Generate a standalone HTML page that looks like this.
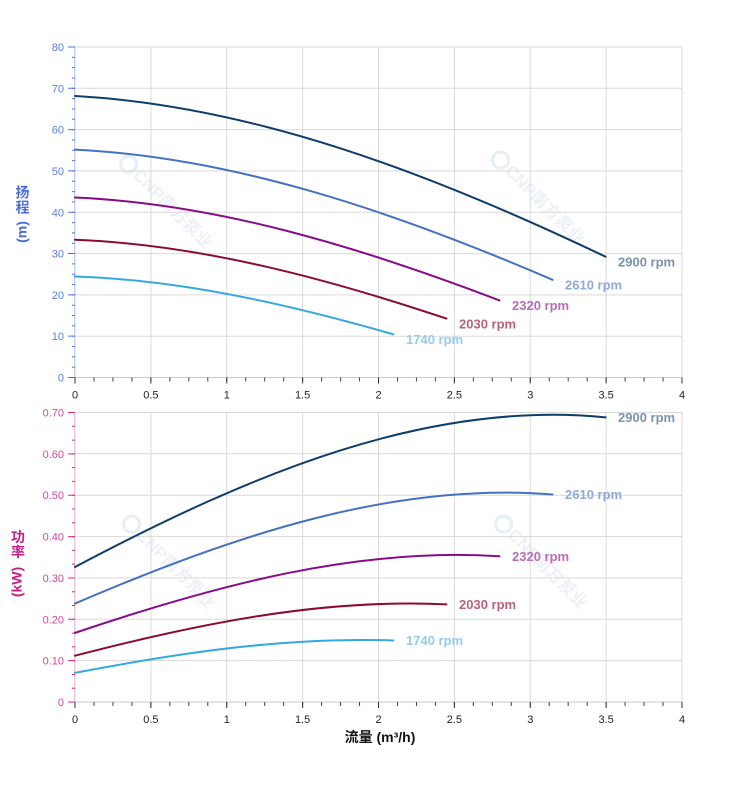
<!DOCTYPE html>
<html>
<head>
<meta charset="utf-8">
<style>
html,body{margin:0;padding:0;background:#fff;}
svg{display:block;}
text{font-family:"Liberation Sans","Noto Sans CJK SC",sans-serif;}
</style>
</head>
<body>
<svg width="752" height="797" viewBox="0 0 752 797" xmlns="http://www.w3.org/2000/svg">
<rect width="752" height="797" fill="#fff"/>

<!-- watermarks -->
<g fill="#edf1f7" font-size="17" font-weight="bold">
  <g transform="translate(118,162) rotate(45)"><circle cx="9" cy="-6" r="8" fill="none" stroke="#e6eef8" stroke-width="3"/><text x="20" y="0">CNP南方泵业</text></g>
  <g transform="translate(490,158) rotate(45)"><circle cx="9" cy="-6" r="8" fill="none" stroke="#e6eef8" stroke-width="3"/><text x="20" y="0">CNP南方泵业</text></g>
  <g transform="translate(121,522) rotate(45)"><circle cx="9" cy="-6" r="8" fill="none" stroke="#e6eef8" stroke-width="3"/><text x="20" y="0">CNP南方泵业</text></g>
  <g transform="translate(493,522) rotate(45)"><circle cx="9" cy="-6" r="8" fill="none" stroke="#e6eef8" stroke-width="3"/><text x="20" y="0">CNP南方泵业</text></g>
</g>

<!-- TOP grid -->
<g stroke="#d9d9d9" stroke-width="1" fill="none">
  <path d="M75,47V377.5M150.9,47V377.5M226.75,47V377.5M302.6,47V377.5M378.5,47V377.5M454.4,47V377.5M530.25,47V377.5M606.1,47V377.5M682,47V377.5"/>
  <path d="M75,47H682M75,88.3H682M75,129.6H682M75,170.9H682M75,212.3H682M75,253.6H682M75,294.9H682M75,336.2H682"/>
</g>
<line x1="75" y1="377.5" x2="682" y2="377.5" stroke="#c8c8c8" stroke-width="1"/>
<line x1="74.5" y1="47" x2="74.5" y2="377.5" stroke="#c5cff0" stroke-width="1"/>

<!-- TOP y ticks -->
<line x1="71.5" y1="46.5" x2="71.5" y2="378.5" stroke="#4f73e0" stroke-width="7" stroke-dasharray="1 40.31"/>
<line x1="73.5" y1="46.5" x2="73.5" y2="378.5" stroke="#4f73e0" stroke-width="3" stroke-dasharray="1 9.3275"/>
<!-- TOP x ticks -->
<line x1="74.5" y1="379.5" x2="682.5" y2="379.5" stroke="#444" stroke-width="4" stroke-dasharray="1 17.969"/>
<line x1="74.5" y1="380.5" x2="682.5" y2="380.5" stroke="#333" stroke-width="6" stroke-dasharray="1 74.875"/>

<!-- TOP y labels -->
<g fill="#5a7de4" font-size="11" text-anchor="end">
  <text x="64" y="381.5">0</text>
  <text x="64" y="340.2">10</text>
  <text x="64" y="298.9">20</text>
  <text x="64" y="257.6">30</text>
  <text x="64" y="216.3">40</text>
  <text x="64" y="174.9">50</text>
  <text x="64" y="133.6">60</text>
  <text x="64" y="92.3">70</text>
  <text x="64" y="51">80</text>
</g>
<!-- TOP x labels -->
<g fill="#222" font-size="11" text-anchor="middle">
  <text x="75" y="398.5">0</text>
  <text x="150.9" y="398.5">0.5</text>
  <text x="226.75" y="398.5">1</text>
  <text x="302.6" y="398.5">1.5</text>
  <text x="378.5" y="398.5">2</text>
  <text x="454.4" y="398.5">2.5</text>
  <text x="530.25" y="398.5">3</text>
  <text x="606.1" y="398.5">3.5</text>
  <text x="682" y="398.5">4</text>
</g>

<!-- TOP axis title -->
<g fill="#4a6cd6" font-size="14" font-weight="bold" text-anchor="middle">
  <text x="22.5" y="197.5">扬</text>
  <text x="22.5" y="212.5">程</text>
  <text transform="translate(21.5,232) rotate(-90)" y="5">(m)</text>
</g>

<!-- TOP curves -->
<g fill="none" stroke-width="2" stroke-linecap="round">
  <path d="M75,96.01 C251.87,105.64 428.73,172.24 605.6,256.75" stroke="#0e3d6b"/>
  <path d="M75,149.59 C234.18,157.39 393.36,211.35 552.54,279.78" stroke="#4571c4"/>
  <path d="M75,197.53 C216.49,203.68 357.99,246.33 499.48,300.41" stroke="#880c88"/>
  <path d="M75,239.81 C198.81,244.56 322.61,277.18 446.42,318.6" stroke="#8a0c30"/>
  <path d="M75,276.48 C181.12,279.95 287.24,303.91 393.36,334.36" stroke="#35a8e0"/>
</g>
<g font-size="13" font-weight="bold">
  <text x="618" y="266.5" fill="#7a94ae">2900 rpm</text>
  <text x="565" y="289.5" fill="#91a9da">2610 rpm</text>
  <text x="512" y="310" fill="#b86db8">2320 rpm</text>
  <text x="459" y="328.5" fill="#b8627a">2030 rpm</text>
  <text x="406" y="344" fill="#93cbee">1740 rpm</text>
</g>

<!-- BOTTOM grid -->
<g stroke="#d9d9d9" stroke-width="1" fill="none">
  <path d="M75,412.5V702M150.9,412.5V702M226.75,412.5V702M302.6,412.5V702M378.5,412.5V702M454.4,412.5V702M530.25,412.5V702M606.1,412.5V702M682,412.5V702"/>
  <path d="M75,412.5H682M75,453.8H682M75,495.2H682M75,536.6H682M75,577.9H682M75,619.3H682M75,660.6H682"/>
</g>
<line x1="75" y1="702" x2="682" y2="702" stroke="#c8c8c8" stroke-width="1"/>
<line x1="74.5" y1="412.5" x2="74.5" y2="702" stroke="#efc6dd" stroke-width="1"/>

<!-- BOTTOM y ticks -->
<line x1="71.5" y1="412" x2="71.5" y2="703" stroke="#d02a88" stroke-width="7" stroke-dasharray="1 40.36"/>
<line x1="73.5" y1="412" x2="73.5" y2="703" stroke="#d02a88" stroke-width="3" stroke-dasharray="1 12.787"/>
<!-- BOTTOM x ticks -->
<line x1="74.5" y1="704" x2="682.5" y2="704" stroke="#444" stroke-width="4" stroke-dasharray="1 17.969"/>
<line x1="74.5" y1="705" x2="682.5" y2="705" stroke="#333" stroke-width="6" stroke-dasharray="1 74.875"/>

<!-- BOTTOM y labels -->
<g fill="#d4489b" font-size="11" text-anchor="end">
  <text x="64" y="706">0</text>
  <text x="64" y="664.6">0.10</text>
  <text x="64" y="623.3">0.20</text>
  <text x="64" y="581.9">0.30</text>
  <text x="64" y="540.6">0.40</text>
  <text x="64" y="499.2">0.50</text>
  <text x="64" y="457.8">0.60</text>
  <text x="64" y="416.5">0.70</text>
</g>
<!-- BOTTOM x labels -->
<g fill="#222" font-size="11" text-anchor="middle">
  <text x="75" y="723">0</text>
  <text x="150.9" y="723">0.5</text>
  <text x="226.75" y="723">1</text>
  <text x="302.6" y="723">1.5</text>
  <text x="378.5" y="723">2</text>
  <text x="454.4" y="723">2.5</text>
  <text x="530.25" y="723">3</text>
  <text x="606.1" y="723">3.5</text>
  <text x="682" y="723">4</text>
</g>

<!-- BOTTOM axis title -->
<g fill="#c41f86" font-size="14" font-weight="bold" text-anchor="middle">
  <text x="18" y="542">功</text>
  <text x="18" y="557">率</text>
  <text transform="translate(16.5,582) rotate(-90)" y="5">(kW)</text>
</g>

<!-- BOTTOM curves -->
<g fill="none" stroke-width="2" stroke-linecap="round">
  <path d="M75,566.99 C251.87,473.41 428.73,399.64 605.6,417.34" stroke="#0e3d6b"/>
  <path d="M75,603.58 C234.18,535.36 393.36,481.58 552.54,494.49" stroke="#4571c4"/>
  <path d="M75,632.88 C216.49,584.96 357.99,547.19 499.48,556.26" stroke="#880c88"/>
  <path d="M75,655.69 C198.81,623.59 322.61,598.29 446.42,604.36" stroke="#8a0c30"/>
  <path d="M75,672.84 C181.12,652.63 287.24,636.69 393.36,640.51" stroke="#35a8e0"/>
</g>
<g font-size="13" font-weight="bold">
  <text x="618" y="422" fill="#7a94ae">2900 rpm</text>
  <text x="565" y="499" fill="#91a9da">2610 rpm</text>
  <text x="512" y="561" fill="#b86db8">2320 rpm</text>
  <text x="459" y="609" fill="#b8627a">2030 rpm</text>
  <text x="406" y="645" fill="#93cbee">1740 rpm</text>
</g>

<!-- X axis title -->
<text x="380" y="742" fill="#111" font-size="14" font-weight="bold" text-anchor="middle">流量 (m³/h)</text>
</svg>
</body>
</html>
